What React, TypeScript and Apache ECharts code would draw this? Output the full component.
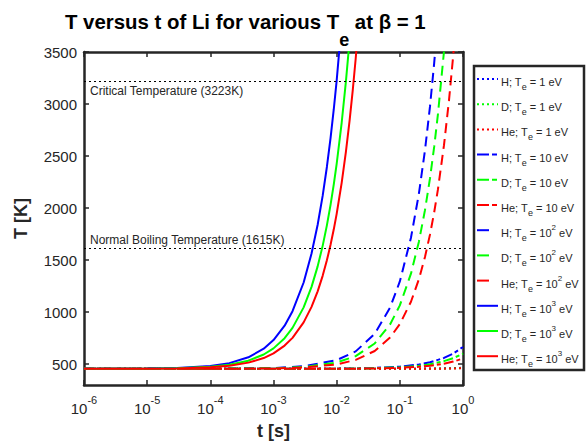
import React, { useEffect, useRef } from 'react';
import * as echarts from 'echarts';

const FONT = '"Liberation Sans", Arial, Helvetica, sans-serif';
const INK = '#262626';

// Time grids (s) used for each electron-temperature family
const tTe1000 = [1e-6, 1e-5, 3e-5, 1e-4, 2e-4, 4e-4, 7e-4, 1e-3, 1.5e-3, 2e-3, 3e-3, 4e-3, 5e-3, 6e-3, 7e-3, 8e-3, 9e-3, 1e-2, 1.2e-2, 1.4e-2, 1.6e-2, 1.8e-2, 2e-2, 2.2e-2];
const tTe100 = [1e-6, 1e-4, 1e-3, 3e-3, 1e-2, 2e-2, 4e-2, 7e-2, 0.1, 0.15, 0.2, 0.25, 0.3, 0.35, 0.4, 0.5, 0.6, 0.7, 0.8];
const tTe10 = [1e-6, 1e-4, 1e-3, 1e-2, 3e-2, 0.1, 0.2, 0.3, 0.5, 0.7, 1];

// Surface temperature of Li (K)
const H_Te1 = [455, 455, 455, 455, 455, 456, 457, 458, 460, 462, 466];
const D_Te1 = [455, 455, 455, 455, 455, 456, 456, 457, 459, 460, 463];
const He_Te1 = [455, 455, 455, 455, 455, 455, 456, 456, 457, 459, 461];

const H_Te10 = [455, 455, 455, 457, 461, 476, 497, 518, 560, 602, 665];
const D_Te10 = [455, 455, 455, 456, 459, 470, 484, 499, 529, 558, 602];
const He_Te10 = [455, 455, 455, 456, 458, 465, 475, 485, 505, 525, 555];

const H_Te100 = [455, 456, 463, 480, 539, 623, 791, 1043, 1295, 1715, 2135, 2555, 2975, 3395, 3815];
const D_Te100 = [455, 456, 461, 473, 516, 577, 699, 882, 1065, 1370, 1675, 1980, 2285, 2590, 2895, 3505];
const He_Te100 = [455, 455, 459, 468, 498, 541, 627, 756, 885, 1100, 1315, 1530, 1745, 1960, 2175, 2605, 3035, 3465, 3895];

const H_Te1000 = [455, 458, 463, 483, 510, 566, 649, 732, 870, 1009, 1285, 1563, 1840, 2117, 2395, 2672, 2950, 3225, 3780];
const D_Te1000 = [455, 457, 461, 475, 494, 534, 593, 652, 750, 849, 1046, 1243, 1440, 1637, 1834, 2031, 2228, 2425, 2820, 3215, 3610];
const He_Te1000 = [455, 456, 459, 470, 485, 515, 559, 604, 679, 753, 902, 1051, 1200, 1349, 1498, 1647, 1796, 1945, 2243, 2541, 2839, 3137, 3435, 3733];

const criticalT = 3223;
const boilingT = 1615;
const yTicks = [500, 1000, 1500, 2000, 2500, 3000, 3500];

const SPECIES = ['H', 'D', 'He'];
const COLORS = ['#0000ff', '#00ff00', '#ff0000'];

type Dash = number[] | 'solid';
const families: { exp: number; t: number[]; T: number[][]; dash: Dash; legendDash: Dash }[] = [
  { exp: 0, t: tTe10, T: [H_Te1, D_Te1, He_Te1], dash: [2, 3], legendDash: [2, 3] },
  { exp: 1, t: tTe10, T: [H_Te10, D_Te10, He_Te10], dash: [10, 3, 4, 3], legendDash: [12, 3, 5, 3] },
  { exp: 2, t: tTe100, T: [H_Te100, D_Te100, He_Te100], dash: [10, 6], legendDash: [12, 20] },
  { exp: 3, t: tTe1000, T: [H_Te1000, D_Te1000, He_Te1000], dash: 'solid', legendDash: 'solid' },
];

const teLabel = (exp: number) => (exp === 0 ? '{n| = 1 eV}' : exp === 1 ? '{n| = 10 eV}' : `{n| = 10}{sup|${exp}}{n| eV}`);

export default function App() {
  const ref = useRef<HTMLDivElement>(null);

  useEffect(() => {
    if (!ref.current) return;
    const chart = echarts.init(ref.current, undefined, { renderer: 'svg' });

    const series: any[] = [];
    const legendItems: any[] = [];
    let idx = 0;
    families.forEach((fam) => {
      fam.T.forEach((vals, s) => {
        series.push({
          type: 'line',
          name: `${SPECIES[s]}; Te = 10^${fam.exp} eV`,
          data: vals.map((v, i) => [fam.t[i], v]),
          showSymbol: false,
          symbol: 'none',
          clip: true,
          lineStyle: { color: COLORS[s], width: 2, type: fam.dash, cap: 'butt' },
          z: 3,
        });
        const y = 79 + idx * 25.2;
        legendItems.push({
          type: 'line',
          shape: { x1: 477, y1: y, x2: 498, y2: y },
          style: { stroke: COLORS[s], lineWidth: 2, lineDash: fam.legendDash === 'solid' ? null : fam.legendDash },
        });
        legendItems.push({
          type: 'text',
          x: 501,
          y,
          style: {
            text: `{n|${SPECIES[s]}; T}{sub|e}${teLabel(fam.exp)}`,
            verticalAlign: 'middle',
            fill: INK,
            rich: {
              n: { fontSize: 11, fontFamily: FONT, fill: INK, lineHeight: 13, padding: [4, 0, 0, 0], verticalAlign: 'top' },
              sub: { fontSize: 9, fontFamily: FONT, fill: INK, lineHeight: 11, padding: [10, 0, 0, 0], verticalAlign: 'top' },
              sup: { fontSize: 8, fontFamily: FONT, fill: INK, lineHeight: 10, padding: [0, 0, 0, 0], verticalAlign: 'top' },
            },
          },
        });
        idx++;
      });
    });

    const refLine = (value: number, text: string, pos: string, dist: number[]) => ({
      type: 'line',
      data: [],
      silent: true,
      z: 2,
      markLine: {
        silent: true,
        symbol: 'none',
        animation: false,
        data: [{ yAxis: value }],
        lineStyle: { color: '#000', width: 1, type: [2, 3] },
        label: { show: true, position: pos, formatter: text, fontSize: 12, fontFamily: FONT, color: INK, distance: dist },
      },
    });
    series.unshift(refLine(boilingT, 'Normal Boiling Temperature (1615K)', 'insideStartTop', [6, 2]));
    series.unshift(refLine(criticalT, 'Critical Temperature (3223K)', 'insideStartBottom', [6, 4]));

    const axisLine = { show: true, onZero: false, lineStyle: { color: INK, width: 2.5 } };
    const axisTick = { show: true, inside: true, length: 5, lineStyle: { color: INK, width: 1.5 } };

    chart.setOption({
      animation: false,
      backgroundColor: '#fff',
      title: {
        text: '{a|T versus t of Li for various T}{s|e}{a| at β = 1}',
        left: 60,
        top: 7,
        textStyle: {
          rich: {
            a: { fontSize: 20.4, fontWeight: 'bold', fontFamily: FONT, color: '#000', lineHeight: 22, verticalAlign: 'top' },
            s: { fontSize: 18, fontWeight: 'bold', fontFamily: FONT, color: '#000', lineHeight: 20, padding: [19, 0, 0, 0], verticalAlign: 'top' },
          },
        },
      },
      grid: { left: 84, right: 125, top: 52, bottom: 61, containLabel: false },
      xAxis: [
        {
          type: 'log',
          logBase: 10,
          min: 1e-6,
          max: 1,
          interval: 1,
          position: 'bottom',
          axisLine,
          axisTick,
          minorTick: { show: false },
          splitLine: { show: false },
          axisLabel: {
            margin: 8,
            formatter: (v: number) => `{b|10}{e|${Math.round(Math.log10(v))}}`,
            rich: {
              b: { fontSize: 15, fontFamily: FONT, color: INK, lineHeight: 17, padding: [8, 0, 0, 0], verticalAlign: 'top' },
              e: { fontSize: 11, fontFamily: FONT, color: INK, lineHeight: 13, padding: [1, 0, 0, 0], verticalAlign: 'top' },
            },
          },
          name: 't [s]',
          nameLocation: 'middle',
          nameGap: 36,
          nameTextStyle: { fontSize: 18, fontWeight: 'bold', fontFamily: FONT, color: INK, lineHeight: 20 },
        },
        {
          type: 'log',
          logBase: 10,
          min: 1e-6,
          max: 1,
          interval: 1,
          position: 'top',
          axisLine,
          axisTick,
          minorTick: { show: false },
          splitLine: { show: false },
          axisLabel: { show: false },
        },
      ],
      yAxis: [
        {
          type: 'value',
          min: 300,
          max: 3500,
          position: 'left',
          axisLine,
          axisTick: { ...axisTick, customValues: yTicks },
          splitLine: { show: false },
          axisLabel: { customValues: yTicks, margin: 7, fontSize: 15, fontFamily: FONT, color: INK, formatter: (v: number) => String(v) },
          name: 'T [K]',
          nameLocation: 'middle',
          nameGap: 54,
          nameTextStyle: { fontSize: 18, fontWeight: 'bold', fontFamily: FONT, color: INK },
        },
        {
          type: 'value',
          min: 300,
          max: 3500,
          position: 'right',
          axisLine,
          axisTick: { ...axisTick, customValues: yTicks },
          splitLine: { show: false },
          axisLabel: { show: false },
        },
      ],
      graphic: [
        {
          type: 'group',
          children: [
            { type: 'rect', shape: { x: 474, y: 66, width: 110, height: 304 }, style: { fill: '#fff', stroke: INK, lineWidth: 2.5 } },
            ...legendItems,
          ],
        },
      ],
      series,
    });

    return () => chart.dispose();
  }, []);

  return <div ref={ref} style={{ width: 588, height: 446, position: 'fixed', left: 0, top: 0 }} />;
}
